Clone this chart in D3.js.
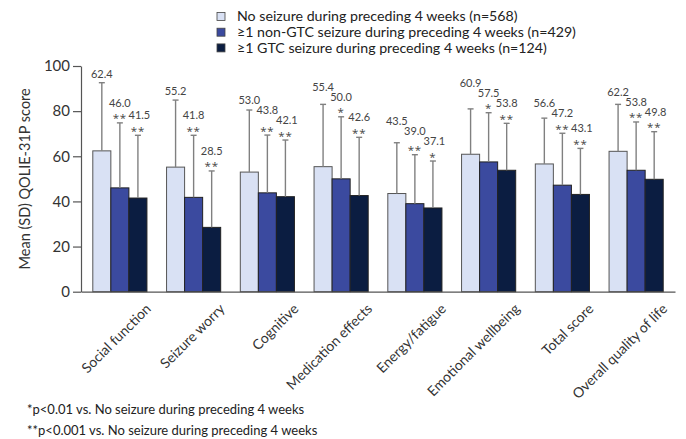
<!DOCTYPE html>
<html>
<head>
<meta charset="utf-8">
<script src="https://cdn.jsdelivr.net/npm/d3@7"></script>
<style>
  html, body { margin: 0; padding: 0; background: #fff; }
  svg { display: block; font-family: Lato, "Open Sans", sans-serif; }
</style>
</head>
<body>
<svg id="chart" width="686" height="439"></svg>
<script>
// QOLIE-31P domains
const categories = ["Social function", "Seizure worry", "Cognitive", "Medication effects",
  "Energy/fatigue", "Emotional wellbeing", "Total score", "Overall quality of life"];

const seriesNames = [
  "No seizure during preceding 4 weeks (n=568)",
  "\u22651 non-GTC seizure during preceding 4 weeks (n=429)",
  "\u22651 GTC seizure during preceding 4 weeks (n=124)"
];

// Mean scores
const meanNoSeizure = [62.4, 55.2, 53.0, 55.4, 43.5, 60.9, 56.6, 62.2];
const meanNonGTC    = [46.0, 41.8, 43.8, 50.0, 39.0, 57.5, 47.2, 53.8];
const meanGTC       = [41.5, 28.5, 42.1, 42.6, 37.1, 53.8, 43.1, 49.8];

// Standard deviations
const sdNoSeizure = [30.2, 29.7, 27.5, 27.6, 22.5, 20.1, 20.3, 20.8];
const sdNonGTC    = [28.8, 27.5, 25.6, 27.5, 21.7, 21.8, 23.0, 21.4];
const sdGTC       = [27.8, 25.0, 25.1, 25.8, 20.8, 20.8, 20.4, 21.1];

// Significance markers vs. no seizure
const sigNoSeizure = ["", "", "", "", "", "", "", ""];
const sigNonGTC    = ["**", "**", "**", "*", "**", "*", "**", "**"];
const sigGTC       = ["**", "**", "**", "**", "*", "**", "**", "**"];

const yTicks = [0, 20, 40, 60, 80, 100];
const yTitle = "Mean (SD) QOLIE-31P score";
const footnotes = [
  "*p<0.01 vs. No seizure during preceding 4 weeks",
  "**p<0.001 vs. No seizure during preceding 4 weeks"
];

const colors = ["#d9e1f4", "#3b4a9f", "#0b1d41"];
const means = [meanNoSeizure, meanNonGTC, meanGTC];
const sds = [sdNoSeizure, sdNonGTC, sdGTC];
const sigs = [sigNoSeizure, sigNonGTC, sigGTC];

const svg = d3.select("#chart");

const x0 = d3.scaleBand().domain(categories).range([81, 675])
  .paddingInner(0.266).paddingOuter(0.16);
const x1 = d3.scaleBand().domain(d3.range(seriesNames.length)).range([0, x0.bandwidth()]);
const y = d3.scaleLinear().domain([0, 100]).range([291.7, 66]);

// y axis
const yAxis = svg.append("g")
  .attr("transform", "translate(81,0)")
  .call(d3.axisLeft(y).tickValues(yTicks).tickSize(8).tickSizeOuter(0).tickPadding(3));
yAxis.select(".domain").attr("stroke", "#555").attr("stroke-width", 1.2);
yAxis.selectAll(".tick line").attr("stroke", "#555").attr("stroke-width", 1.2);
yAxis.selectAll(".tick text").attr("font-size", 15).attr("fill", "#333")
  .attr("font-family", "Lato, sans-serif");

svg.append("text")
  .attr("transform", `translate(26,${(y(0) + y(100)) / 2}) rotate(-90)`)
  .attr("text-anchor", "middle")
  .attr("dominant-baseline", "middle")
  .attr("font-size", 14.5).attr("fill", "#333")
  .text(yTitle);

// flatten bar data
const bars = [];
categories.forEach((c, i) => {
  means.forEach((m, s) => {
    bars.push({ cat: c, s, mean: m[i], sd: sds[s][i], sig: sigs[s][i] });
  });
});

const bx = d => x0(d.cat) + x1(d.s);
const bw = x1.bandwidth();
const whiskerTop = d => y(d.mean + d.sd);

// bars
svg.append("g").selectAll("rect").data(bars).join("rect")
  .attr("x", d => bx(d))
  .attr("y", d => y(d.mean))
  .attr("width", bw)
  .attr("height", d => y(0) - y(d.mean))
  .attr("fill", d => colors[d.s])
  .attr("stroke", d => d.s === 0 ? "#555" : "#222")
  .attr("stroke-width", 1);

// upper SD whiskers
const whisk = svg.append("g").attr("stroke", "#808080").attr("stroke-width", 1.4);
whisk.selectAll("line.v").data(bars).join("line").attr("class", "v")
  .attr("x1", d => bx(d) + bw / 2).attr("x2", d => bx(d) + bw / 2)
  .attr("y1", d => y(d.mean)).attr("y2", whiskerTop);
whisk.selectAll("line.c").data(bars).join("line").attr("class", "c")
  .attr("x1", d => bx(d) + bw / 2 - 3).attr("x2", d => bx(d) + bw / 2 + 3)
  .attr("y1", whiskerTop).attr("y2", whiskerTop);

// significance stars
const stars = svg.append("g").selectAll("text").data(bars).join("text")
  .attr("x", d => bx(d) + bw / 2)
  .attr("y", d => whiskerTop(d) - 0.5)
  .attr("text-anchor", "middle")
  .attr("font-family", "'Open Sans', sans-serif")
  .attr("font-size", 11.5).attr("fill", "#444")
  .attr("letter-spacing", 0.8)
  .text(d => d.sig);

// value label baselines: above whisker (and stars), stacked so that
// neighbouring labels within a group do not collide
const gap = 10;
const baseY = bars.map(d => whiskerTop(d) - (d.sig ? 16 : 5));
for (let i = bars.length - 2; i >= 0; i--) {
  if (bars[i].cat === bars[i + 1].cat) {
    baseY[i] = Math.min(baseY[i], baseY[i + 1] - gap);
  }
}

const labels = svg.append("g").selectAll("text").data(bars).join("text")
  .attr("x", d => bx(d) + bw / 2)
  .attr("y", (d, i) => baseY[i])
  .attr("text-anchor", "middle")
  .attr("font-size", 11).attr("fill", "#444")
  .text(d => d.mean.toFixed(1));

// shift a label right when it runs into the stars of the bar to its left
const starNodes = stars.nodes();
labels.each(function (d, i) {
  if (i === 0 || bars[i - 1].cat !== d.cat || !bars[i - 1].sig) return;
  const lb = this.getBBox();
  const sb = starNodes[i - 1].getBBox();
  const yOverlap = lb.y < sb.y + sb.height && sb.y < lb.y + lb.height;
  const over = sb.x + sb.width + 1.5 - lb.x;
  if (yOverlap && over > 0) d3.select(this).attr("dx", over);
});

// x axis
const xAxis = svg.append("g")
  .attr("transform", `translate(0,${y(0)})`)
  .call(d3.axisBottom(x0).tickSize(0).tickSizeOuter(0));
xAxis.select(".domain").attr("stroke", "#555").attr("stroke-width", 1.2);
xAxis.selectAll(".tick text")
  .attr("font-size", 14).attr("fill", "#333").attr("font-family", "Lato, sans-serif")
  .attr("text-anchor", "end")
  .attr("x", 0).attr("y", 0).attr("dy", 0)
  .attr("transform", "translate(32,18) rotate(-45)");

// legend
const legend = svg.append("g").attr("transform", "translate(217,16.5)");
seriesNames.forEach((name, i) => {
  const g = legend.append("g").attr("transform", `translate(0,${i * 15.7})`);
  g.append("rect").attr("x", 0).attr("y", -4).attr("width", 8).attr("height", 8)
    .attr("fill", colors[i]).attr("stroke", "#444").attr("stroke-width", 0.8);
  g.append("text").attr("x", 20).attr("y", 0).attr("dy", "0.35em")
    .attr("font-size", 14.2).attr("fill", "#222").text(name);
});

// footnotes
svg.append("g").selectAll("text").data(footnotes).join("text")
  .attr("x", 27).attr("y", (d, i) => 414 + i * 21)
  .attr("font-size", 13).attr("fill", "#222")
  .text(d => d);
</script>
</body>
</html>
